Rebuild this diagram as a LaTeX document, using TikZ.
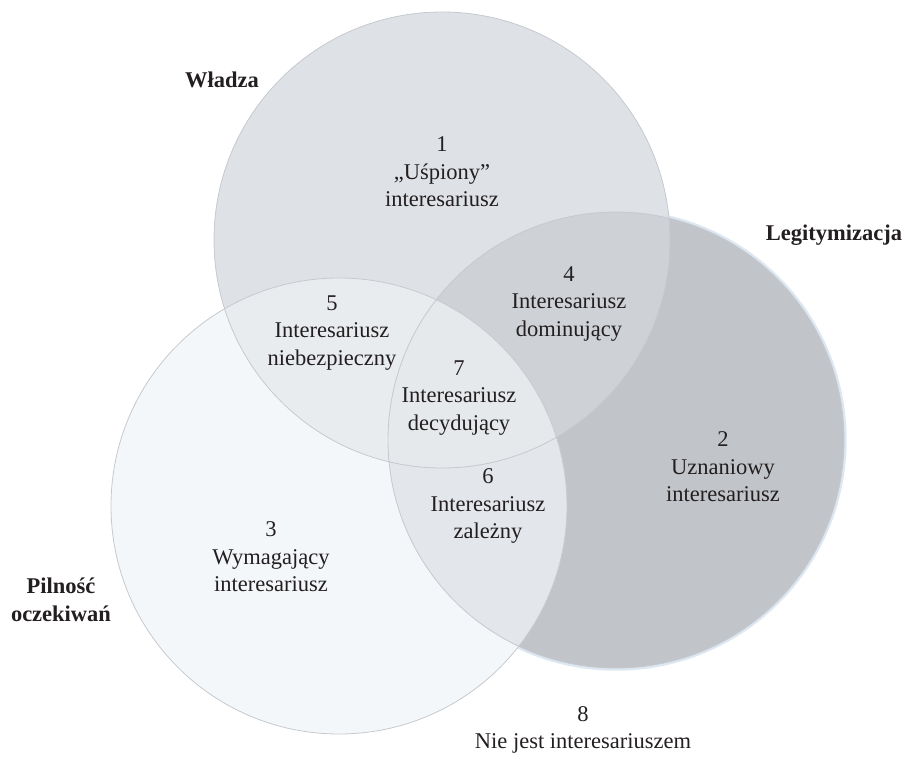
\documentclass[tikz,border=0pt]{standalone}
\usepackage{fontspec}
\setmainfont{LiberationSerif}[
  Extension=.ttf,
  UprightFont=*-Regular,
  BoldFont=*-Bold,
  ItalicFont=*-Italic,
  BoldItalicFont=*-BoldItalic]
\definecolor{fillW}{HTML}{DEE1E5}
\definecolor{fillL}{HTML}{C1C4C8}
\definecolor{fillP}{HTML}{F4F7FA}
\definecolor{fillWL}{HTML}{CED2D6}
\definecolor{fillWP}{HTML}{E9ECEF}
\definecolor{fillLP}{HTML}{E3E6EA}
\definecolor{fillAll}{HTML}{E6E9EC}
\definecolor{rim}{HTML}{C6C9CD}
\definecolor{halo}{HTML}{DDE7F1}
\definecolor{ink}{HTML}{231F20}
\tikzset{
  region/.style={align=center, text=ink, font=\fontsize{22.5}{27.5}\selectfont, inner sep=0pt},
  setname/.style={align=center, text=ink, font=\fontsize{22.5}{27.5}\selectfont\bfseries, inner sep=0pt},
  rimline/.style={draw=rim, line width=0.8pt},
  haloline/.style={draw=halo, line width=3pt}
}
\begin{document}
\begin{tikzpicture}[x=1pt,y=-1pt]
\useasboundingbox (0,0) rectangle (905,758);
\def\R{228}
\coordinate (W) at (442,240);
\coordinate (L) at (616,440);
\coordinate (P) at (339,506);

% soft halo around the legitimacy set
\draw[haloline] (L) circle (\R+1.2);

% single sets
\fill[fillL] (L) circle (\R);
\fill[fillW] (W) circle (\R);
\fill[fillP] (P) circle (\R);

% pairwise overlaps
\begin{scope}
  \clip (W) circle (\R);
  \fill[fillWL] (L) circle (\R);
\end{scope}
\begin{scope}
  \clip (W) circle (\R);
  \fill[fillWP] (P) circle (\R);
\end{scope}
\begin{scope}
  \clip (L) circle (\R);
  \fill[fillLP] (P) circle (\R);
\end{scope}
% triple overlap
\begin{scope}
  \clip (W) circle (\R);
  \clip (L) circle (\R);
  \fill[fillAll] (P) circle (\R);
\end{scope}

% outlines
\draw[rimline] (L) circle (\R);
\draw[rimline] (W) circle (\R);
\draw[rimline] (P) circle (\R);

% set names
\node[setname] (nW) at (222,80) {Władza};
\node[setname] (nL) at (834,235) {Legitymizacja};
\node[setname] (nP) at (61,600) {Pilność\\oczekiwań};

% region labels
\node[region] (r1) at (442,172) {1\\„Uśpiony”\\interesariusz};
\node[region] (r2) at (723,467) {2\\Uznaniowy\\interesariusz};
\node[region] (r3) at (271,557) {3\\Wymagający\\interesariusz};
\node[region] (r4) at (569,304) {4\\Interesariusz\\dominujący};
\node[region] (r5) at (332,333) {5\\Interesariusz\\niebezpieczny};
\node[region] (r6) at (488,506) {6\\Interesariusz\\zależny};
\node[region] (r7) at (459,398) {7\\Interesariusz\\decydujący};
\node[region] (r8) at (583,730) {8\\Nie jest interesariuszem};
\end{tikzpicture}
\end{document}
